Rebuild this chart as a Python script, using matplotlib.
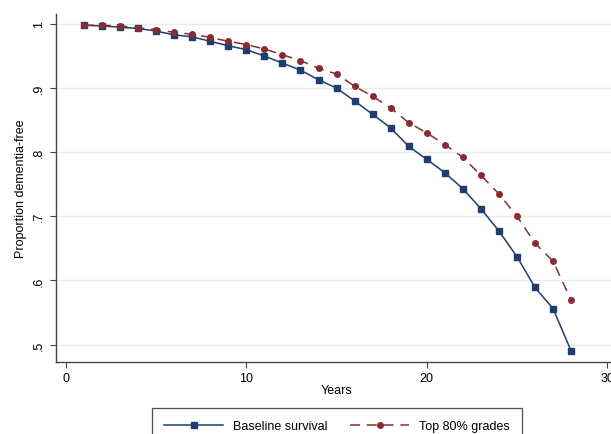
import matplotlib
matplotlib.use("Agg")
import matplotlib.pyplot as plt

plt.rcParams['font.family'] = ['Liberation Sans', 'DejaVu Sans']

years = list(range(1, 29))
baseline = [0.998, 0.997, 0.995, 0.993, 0.989, 0.983, 0.980, 0.973, 0.966, 0.960,
            0.950, 0.939, 0.928, 0.913, 0.900, 0.880, 0.859, 0.838, 0.809, 0.789,
            0.768, 0.743, 0.712, 0.677, 0.637, 0.589, 0.556, 0.490]
top80 = [0.998, 0.998, 0.997, 0.994, 0.991, 0.987, 0.984, 0.979, 0.973, 0.968,
         0.961, 0.952, 0.943, 0.931, 0.922, 0.903, 0.887, 0.869, 0.846, 0.830,
         0.812, 0.792, 0.764, 0.735, 0.700, 0.658, 0.630, 0.569]
xticks = [0, 10, 20, 30]
yticks = [0.5, 0.6, 0.7, 0.8, 0.9, 1.0]
ytick_labels = ['.5', '.6', '.7', '.8', '.9', '1']

navy = '#1f3d6e'
maroon = '#8a2b33'

fig = plt.figure(figsize=(6.11, 4.35), dpi=100)
W, H = 611, 435
left, right, top, bottom = 55.5, 618, 15, 362.5
ax = fig.add_axes([left / W, 1 - bottom / H, (right - left) / W, (bottom - top) / H])

ax.plot(years, baseline, color=navy, lw=1.1, marker='s', markersize=4.6,
        label='Baseline survival', zorder=3)
ax.plot(years, top80, color=maroon, lw=1.1, ls=(0, (6.5, 4.5)), marker='o', markersize=4.0,
        label='Top 80% grades', zorder=3)

ax.set_xlim(-0.58, 30.6)
ax.set_ylim(0.4735, 1.0156)
ax.set_xticks(xticks)
ax.set_yticks(yticks)
ax.set_yticklabels(ytick_labels, rotation=90, va='center')
ax.grid(axis='y', color='#e4eeef', lw=1.0)
ax.set_axisbelow(True)
for s in ['top', 'right']:
    ax.spines[s].set_visible(False)
for s in ['left', 'bottom']:
    ax.spines[s].set_color('#444444')
    ax.spines[s].set_linewidth(1.0)
ax.tick_params(axis='both', direction='out', length=4.3, width=0.8, color='#444444',
               labelsize=9, labelcolor='black')
ax.tick_params(axis='x', pad=3)
ax.tick_params(axis='y', pad=3.5)
ax.set_xlabel('Years', fontsize=9, labelpad=0)
ax.set_ylabel('Proportion dementia-free', fontsize=9, labelpad=4)

leg = fig.legend(loc='upper center', bbox_to_anchor=(337 / W, 1 - 409 / H), ncol=2,
                 fontsize=9, frameon=True, fancybox=False, edgecolor='#222222',
                 handlelength=4.7, handletextpad=0.8, columnspacing=1.8,
                 borderpad=1.0, borderaxespad=0)
leg.get_frame().set_linewidth(0.9)

fig.savefig('out.png', dpi=100)
